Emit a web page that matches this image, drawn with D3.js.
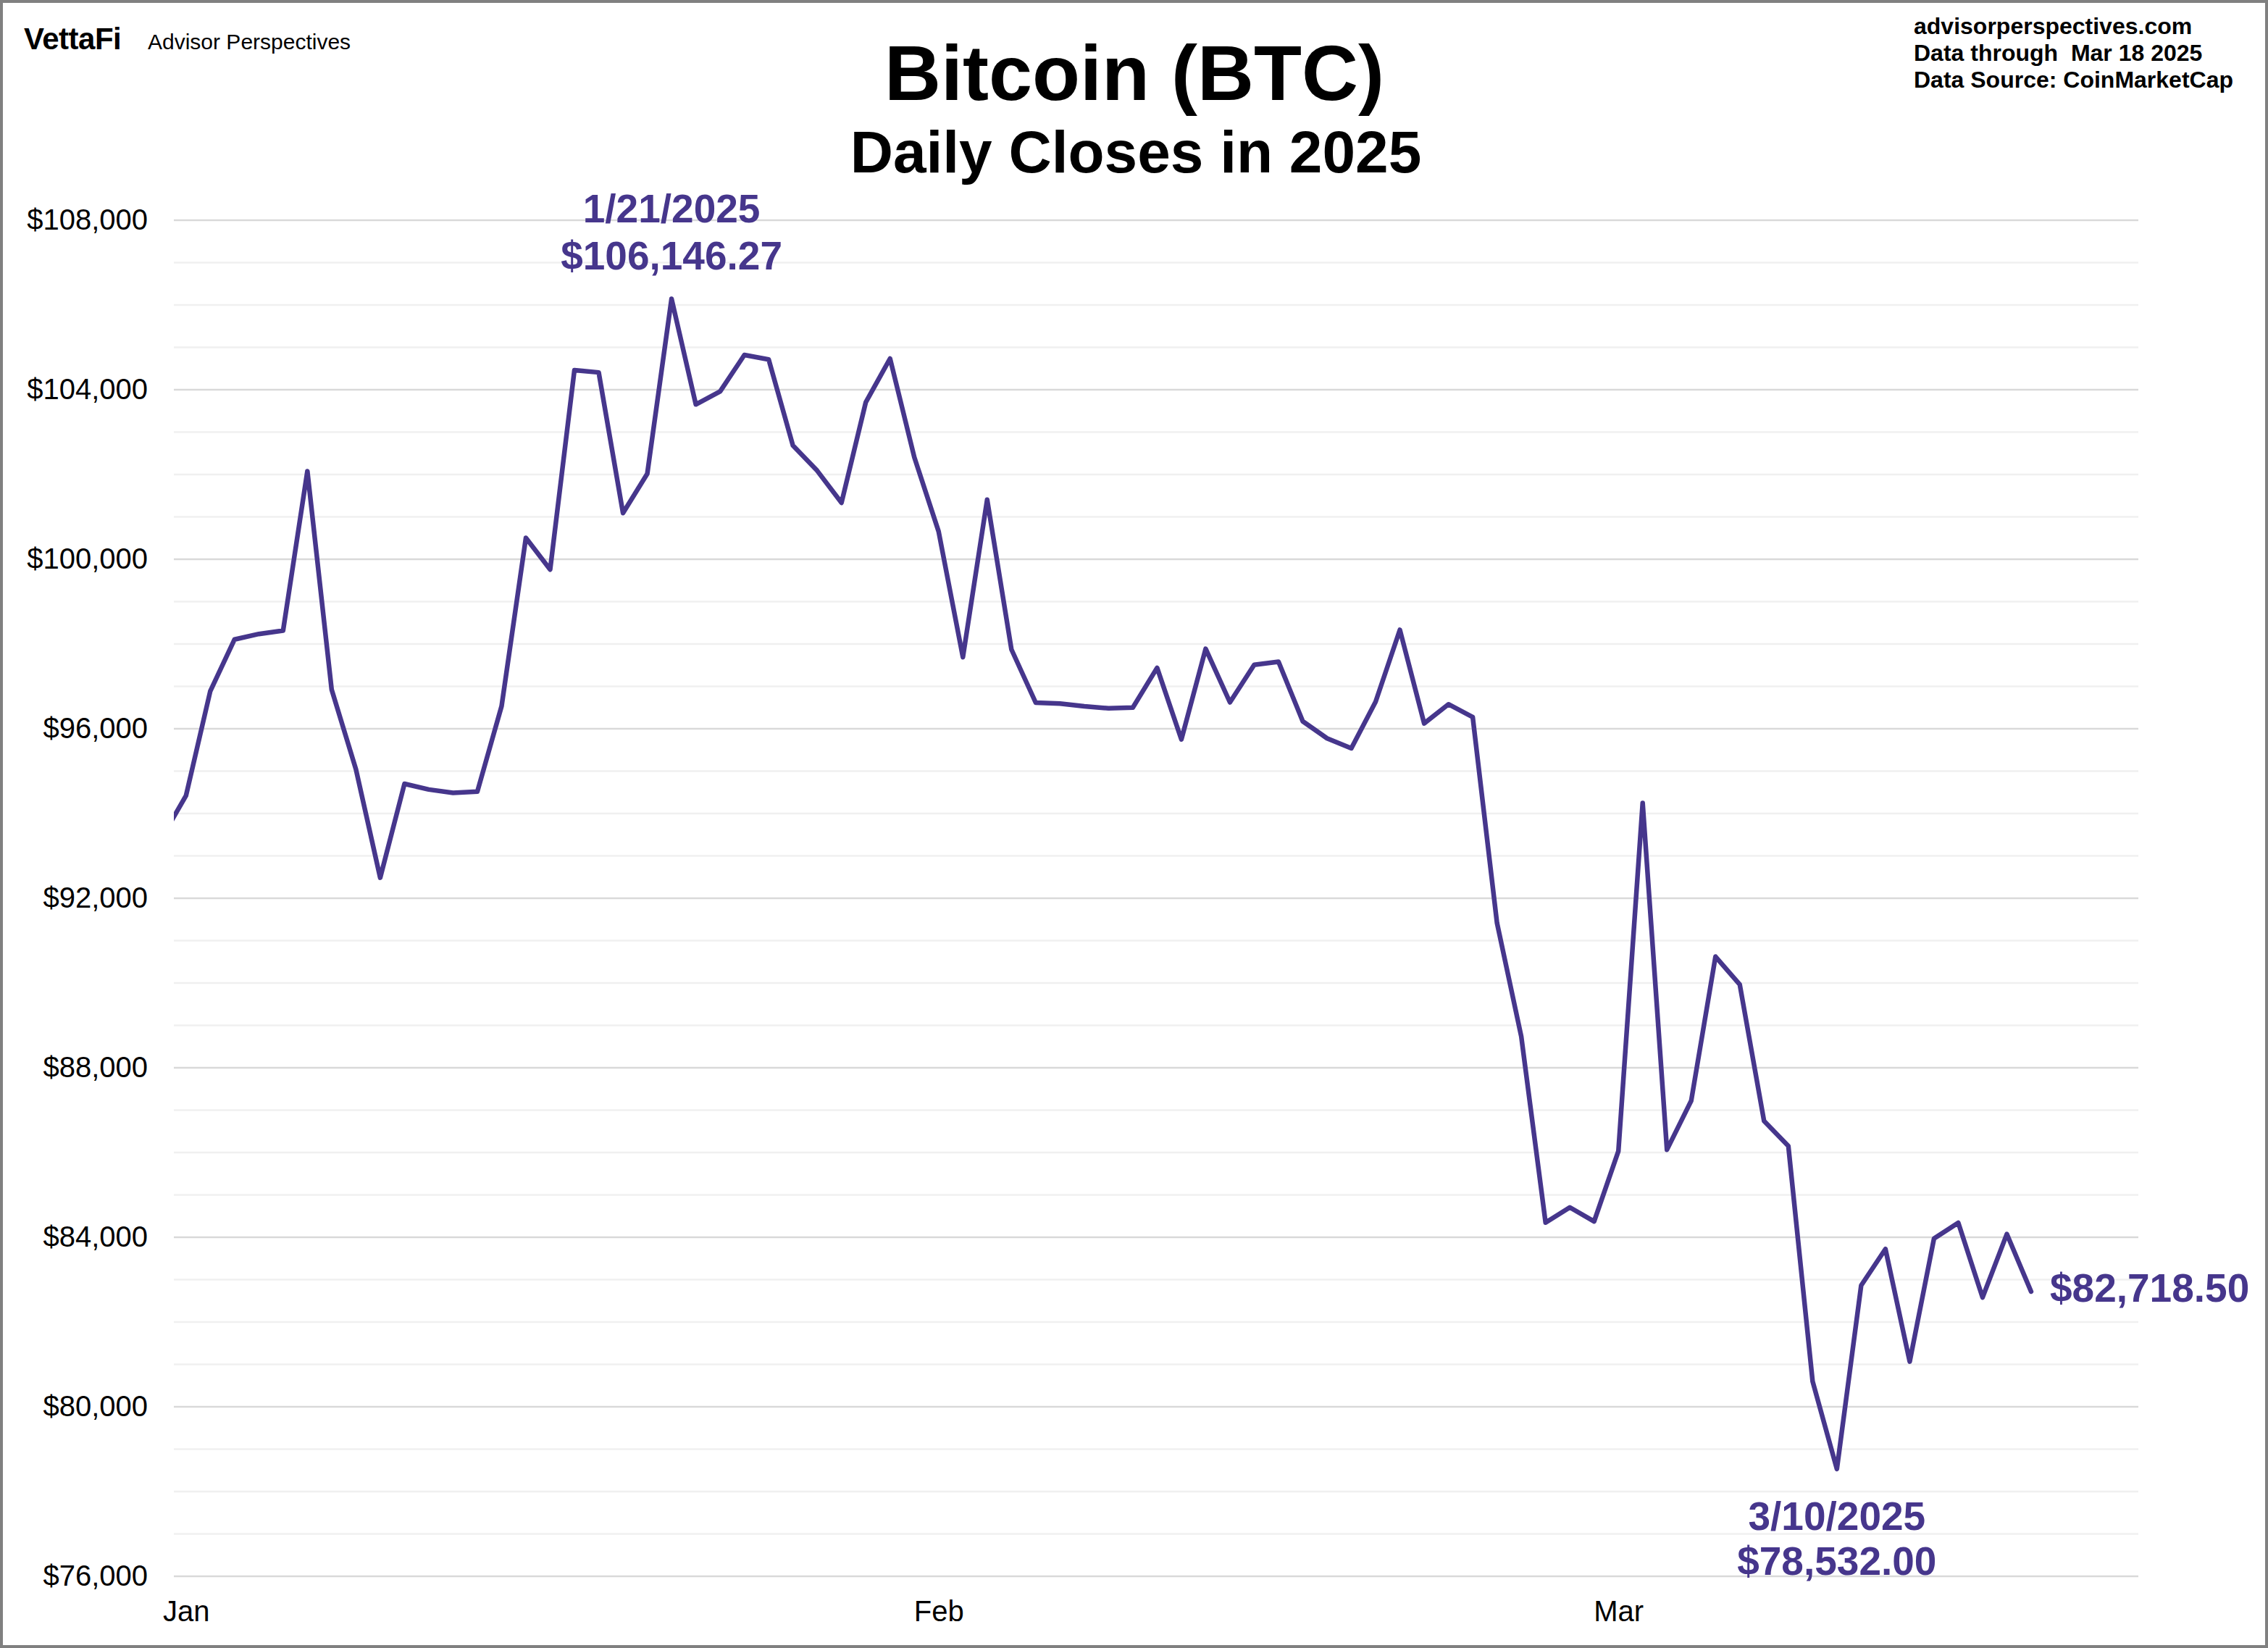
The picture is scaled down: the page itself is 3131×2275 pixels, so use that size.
<!DOCTYPE html>
<html>
<head>
<meta charset="utf-8">
<script src="https://cdn.jsdelivr.net/npm/d3@7"></script>
<style>
  html, body { margin: 0; padding: 0; background: #fff; }
  svg { display: block; font-family: "Liberation Sans", Arial, sans-serif; }
</style>
</head>
<body>
<div id="chart"></div>
<script>
// daily closes, Dec 31 2024 through Mar 18 2025 (Dec 31 only feeds the clipped left edge)
const startDate = '2024-12-31';
const closes = [
    93429.20,
    94419.76, 96886.88, 98107.43, 98236.23, 98314.96, 102078.09, 96922.70, 95043.52, 92484.04, 94701.46,
    94566.59, 94488.44, 94516.52, 96534.04, 100504.49, 99756.91, 104462.04, 104408.07, 101089.61, 102016.66,
    106146.27, 103653.07, 103960.17, 104819.48, 104714.65, 102682.50, 102087.69, 101332.48, 103703.21, 104735.30,
    102405.03,
    100655.91, 97688.98, 101405.42, 97871.82, 96615.44, 96593.57, 96529.09, 96482.45, 96500.09, 97437.56,
    95747.43, 97885.86, 96623.87, 97508.97, 97580.35, 96175.03, 95773.38, 95539.54, 96635.61, 98333.94,
    96125.55, 96577.76, 96273.92, 91418.17, 88736.17, 84347.02, 84704.23, 84373.01,
    86031.91, 94248.35, 86065.67, 87222.20, 90623.56, 89961.73, 86742.67, 86154.59, 80601.04, 78532.00,
    82862.21, 83722.36, 81066.70, 83969.10, 84343.11, 82579.69, 84075.69, 82718.50
];

const yMajorTicks = [76000, 80000, 84000, 88000, 92000, 96000, 100000, 104000, 108000];
const yMinorTicks = d3.range(76000, 108001, 1000);
const monthTicks = ['2025-01-01', '2025-02-01', '2025-03-01'];

const titleLines = ['Bitcoin (BTC)', 'Daily Closes in 2025'];
const sourceLines = ['advisorperspectives.com', 'Data through  Mar 18 2025', 'Data Source: CoinMarketCap'];
const highLabel = { date: '2025-01-21', dateText: '1/21/2025', valueText: '$106,146.27' };
const lowLabel = { date: '2025-03-10', dateText: '3/10/2025', valueText: '$78,532.00' };
const lastLabel = '$82,718.50';

const purple = '#46368c';
const width = 3131;
const height = 2275;

const parse = d3.utcParse('%Y-%m-%d');
const start = parse(startDate);
const data = closes.map((v, i) => ({ date: d3.utcDay.offset(start, i), value: v }));

const svg = d3.select('#chart')
    .append('svg')
    .attr('width', width)
    .attr('height', height);

svg.append('rect')
    .attr('x', 2).attr('y', 2)
    .attr('width', width - 4).attr('height', height - 4)
    .attr('fill', '#fff')
    .attr('stroke', '#808080')
    .attr('stroke-width', 4);

const plot = { left: 240, right: 2952, top: 304, bottom: 2176 };

const x = d3.scaleUtc()
    .domain([new Date(Date.UTC(2024, 11, 31, 12)), new Date(Date.UTC(2025, 2, 22, 10))])
    .range([plot.left, plot.right]);

const y = d3.scaleLinear()
    .domain([76000, 108000])
    .range([plot.bottom, plot.top]);

// gridlines: minor first, then major
svg.append('g')
    .attr('class', 'grid-minor')
    .selectAll('line')
    .data(yMinorTicks.filter(t => !yMajorTicks.includes(t)))
    .join('line')
    .attr('x1', plot.left).attr('x2', plot.right)
    .attr('y1', d => y(d)).attr('y2', d => y(d))
    .attr('stroke', '#f0f0f0')
    .attr('stroke-width', 2.5);

svg.append('g')
    .attr('class', 'grid-major')
    .selectAll('line')
    .data(yMajorTicks)
    .join('line')
    .attr('x1', plot.left).attr('x2', plot.right)
    .attr('y1', d => y(d)).attr('y2', d => y(d))
    .attr('stroke', '#d9d9d9')
    .attr('stroke-width', 2.5);

// y axis labels
const yAxis = svg.append('g')
    .attr('transform', `translate(${plot.left - 36},0)`)
    .call(d3.axisLeft(y).tickValues(yMajorTicks).tickSize(0).tickPadding(0).tickFormat(d3.format('$,')));
yAxis.select('.domain').remove();
yAxis.selectAll('text')
    .attr('font-family', '"Liberation Sans", Arial, sans-serif')
    .attr('font-size', 40)
    .attr('fill', '#000');

// x axis labels
const xAxis = svg.append('g')
    .attr('transform', `translate(0,${plot.bottom})`)
    .call(d3.axisBottom(x).tickValues(monthTicks.map(parse)).tickSize(0).tickFormat(d3.utcFormat('%b')));
xAxis.select('.domain').remove();
xAxis.selectAll('text')
    .attr('y', 62)
    .attr('dy', 0)
    .attr('font-family', '"Liberation Sans", Arial, sans-serif')
    .attr('font-size', 40)
    .attr('fill', '#000');

// price line
svg.append('clipPath')
    .attr('id', 'plot-clip')
    .append('rect')
    .attr('x', plot.left).attr('y', 0)
    .attr('width', plot.right - plot.left).attr('height', height);

const line = d3.line()
    .x(d => x(d.date))
    .y(d => y(d.value));

svg.append('path')
    .datum(data)
    .attr('clip-path', 'url(#plot-clip)')
    .attr('fill', 'none')
    .attr('stroke', purple)
    .attr('stroke-width', 6.5)
    .attr('stroke-linejoin', 'round')
    .attr('stroke-linecap', 'round')
    .attr('d', line);

// annotations
const hi = data.find(d => +d.date === +parse(highLabel.date));
const lo = data.find(d => +d.date === +parse(lowLabel.date));
const last = data[data.length - 1];

const ann = svg.append('g')
    .attr('fill', purple)
    .attr('font-weight', 'bold')
    .attr('font-size', 55);

ann.append('text')
    .attr('x', x(hi.date)).attr('y', y(hi.value) - 105)
    .attr('text-anchor', 'middle')
    .text(highLabel.dateText);
ann.append('text')
    .attr('x', x(hi.date)).attr('y', y(hi.value) - 40)
    .attr('text-anchor', 'middle')
    .text(highLabel.valueText);

ann.append('text')
    .attr('x', x(lo.date)).attr('y', y(lo.value) + 84)
    .attr('text-anchor', 'middle')
    .text(lowLabel.dateText);
ann.append('text')
    .attr('x', x(lo.date)).attr('y', y(lo.value) + 146)
    .attr('text-anchor', 'middle')
    .text(lowLabel.valueText);

ann.append('text')
    .attr('x', x(last.date) + 26).attr('y', y(last.value) + 14)
    .text(lastLabel);

// titles
svg.append('text')
    .attr('x', 1566).attr('y', 138)
    .attr('text-anchor', 'middle')
    .attr('font-weight', 'bold')
    .attr('font-size', 108)
    .text(titleLines[0]);
svg.append('text')
    .attr('x', 1568).attr('y', 238)
    .attr('text-anchor', 'middle')
    .attr('font-weight', 'bold')
    .attr('font-size', 82)
    .text(titleLines[1]);

// source block, top right
svg.append('g')
    .selectAll('text')
    .data(sourceLines)
    .join('text')
    .attr('x', 2642)
    .attr('y', (d, i) => 47 + i * 37)
    .attr('font-weight', 'bold')
    .attr('font-size', 32)
    .style('white-space', 'pre')
    .text(d => d);

// logo
svg.append('text')
    .attr('x', 33).attr('y', 68)
    .attr('font-weight', 'bold')
    .attr('font-size', 42)
    .attr('letter-spacing', -0.5)
    .text('VettaFi');
svg.append('text')
    .attr('x', 204).attr('y', 68)
    .attr('font-size', 30)
    .text('Advisor Perspectives');
</script>
</body>
</html>
